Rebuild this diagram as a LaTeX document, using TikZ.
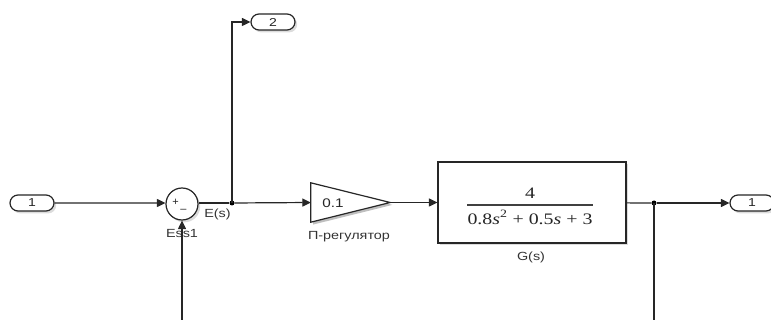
\documentclass[tikz,border=0pt]{standalone}
\usepackage{fontspec}
\setmainfont{Liberation Sans}
\newfontfamily\tfserif{Liberation Serif}
\usetikzlibrary{arrows.meta,shapes.misc,shadows}
\newcommand{\wtxt}[1]{\scalebox{1.22}[1]{#1}}
\begin{document}
\begin{tikzpicture}[x=1pt,y=-1pt,
  wire/.style={line width=1.2pt, draw=black!85},
  arr/.style={wire,-{Triangle[length=8.5pt,width=8pt]}},
  shad/.style={drop shadow={shadow xshift=2.2pt,shadow yshift=-2.4pt,opacity=0.28}},
  port/.style={rounded rectangle, draw=black!85, line width=1.2pt, minimum width=44pt, minimum height=16pt, inner sep=0pt, font=\fontsize{11.5}{12}\selectfont, text=black!85, fill=white, shad},
  lbl/.style={font=\fontsize{11.8}{12}\selectfont, text=black!80, inner sep=0pt},
  dot/.style={circle, fill=black, inner sep=0pt, minimum size=5pt}]
\useasboundingbox (0,0) rectangle (771,320);
\clip (0,0) rectangle (771,320);

% ports
\node[port] (in1) at (32,203) {\wtxt{1}};
\node[port] (out2) at (273,22) {\wtxt{2}};
\node[port] (out1) at (752,203) {\wtxt{1}};

% sum block
\node[circle, draw=black!85, line width=1.2pt, minimum size=32pt, inner sep=0pt, fill=white, shad] (sum) at (182,204) {};
\node[font=\fontsize{11}{11}\selectfont, inner sep=0pt, text=black!85] (sump) at (175.5,202) {+};
\node[font=\fontsize{11}{11}\selectfont, inner sep=0pt, text=black!85] (summ) at (183.5,210.5) {–};
\node[lbl] (ess) at (182,233) {\wtxt{Ess1}};
\node[lbl] (es) at (217.5,214.5) {\wtxt{E(s)}};

% gain
\node[minimum width=79pt, minimum height=39pt, inner sep=0pt] (gain) at (350.5,202.5) {};
\fill[black, opacity=0.25] ([shift={(2.2,2.4)}]gain.north west) -- ([shift={(2.2,2.4)}]gain.east) -- ([shift={(2.2,2.4)}]gain.south west) -- cycle;
\draw[line width=1.2pt, fill=white, draw=black!85] (gain.north west) -- (gain.east) -- (gain.south west) -- cycle;
\node[font=\fontsize{12.5}{12.5}\selectfont, text=black!85] (gk) at (333,203) {\wtxt{0.1}};
\node[lbl] (gl) at (349,237) {\wtxt{П-регулятор}};

% transfer function
\node[draw=black!85, line width=1.2pt, minimum width=188pt, minimum height=81pt, inner sep=0pt, fill=white, shad] (tf) at (532,202.5) {};
\node[font=\tfserif\fontsize{16}{16}\selectfont, text=black!85, inner sep=0pt] (num) at (530,193) {\scalebox{1.25}[1]{4}};
\node[font=\tfserif\fontsize{16}{16}\selectfont, text=black!85, inner sep=0pt] (den) at (530,217.5) {\resizebox{125pt}{\height}{0.8\textit{s}\textsuperscript{2} + 0.5\textit{s} + 3}};
\draw[line width=1.2pt, draw=black!75] (den.west |- 0,205) -- (den.east |- 0,205);
\node[lbl] (gs) at (531,257) {\wtxt{G(s)}};

% junctions
\node[dot] (j1) at (232,203) {};
\node[dot] (j2) at (654,203) {};
\coordinate (fbL) at (182,330);
\coordinate (fbR) at (654,330);

% connectors
\draw[arr] (in1) -- (sum.west |- in1);
\draw[wire] (sum.east |- j1) -- (j1);
\draw[arr] (j1.center) |- (out2);
\draw[arr] (j1) -- (gain.west);
\draw[arr] (gain.east) -- (tf);
\draw[wire] (tf) -- (j2);
\draw[arr] (j2) -- (out1);
\draw[wire] (j2.center) -- (fbR);
\draw[arr] (fbL) -- (sum);
\end{tikzpicture}
\end{document}
